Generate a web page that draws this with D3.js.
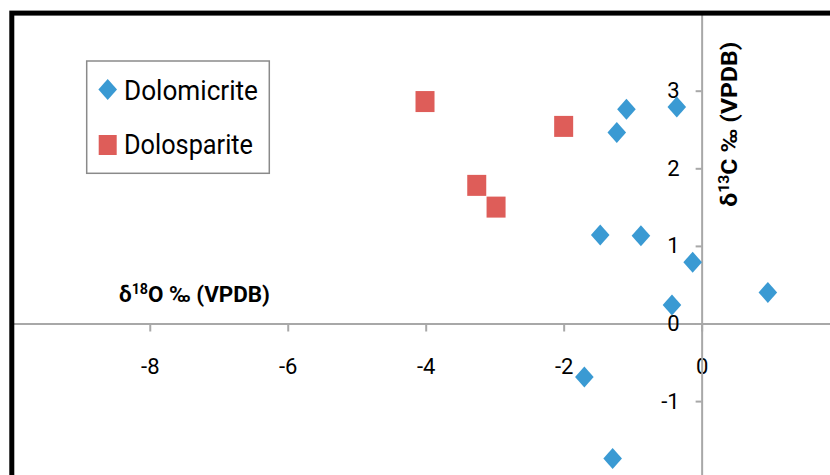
<!DOCTYPE html>
<html lang="en">
<head>
    <meta charset="utf-8"/>
    <title>Isotope cross-plot</title>
    <style>
        body { margin: 0; background: #fff; }
        svg { display: block; }
        .axis path, .axis line { stroke: #a8a8a8; stroke-width: 2px; }
        .axis text { font-family: Roboto, "Liberation Sans", sans-serif; font-size: 22px; fill: #000; }
        .title { font-family: Roboto, "Liberation Sans", sans-serif; font-weight: bold; font-size: 22px; fill: #000; }
        .legend text { font-family: Roboto, "Liberation Sans", sans-serif; font-size: 27px; fill: #000; }
    </style>
</head>
<body>
<div class="viz"></div>
<script src="https://cdnjs.cloudflare.com/ajax/libs/d3/7.8.5/d3.min.js"></script>
<script>
    // values (d18O, d13C in permil VPDB)
    var dolomicriteX = [-1.09, -0.36, -1.23, -1.47, -0.88, -0.13, -0.43, 0.96, -1.70, -1.29];
    var dolomicriteY = [2.76, 2.79, 2.46, 1.14, 1.13, 0.79, 0.24, 0.40, -0.69, -1.74];
    var dolospariteX = [-4.01, -2.00, -3.26, -2.98];
    var dolospariteY = [2.86, 2.54, 1.78, 1.50];

    var seriesNames = ["Dolomicrite", "Dolosparite"];
    var xTicks = [-10, -8, -6, -4, -2, 0, 2];
    var xTickLabels = ["", "-8", "-6", "-4", "-2", "0", ""];
    var yTicks = [-2, -1, 0, 1, 2, 3, 4];
    var yTickLabels = ["", "-1", "0", "1", "2", "3", ""];

    var width = 830, height = 475;

    var svg = d3.select('.viz').append('svg')
        .attr('width', width)
        .attr('height', height);

    svg.append('rect')
        .attr('width', width)
        .attr('height', height)
        .attr('fill', '#fff');

    var x = d3.scaleLinear().domain([-10, 2]).range([11.8, 839.6]);
    var y = d3.scaleLinear().domain([-2, 4]).range([478.7, 13.1]);

    // axes cross at the origin
    svg.append('g')
        .attr('class', 'axis')
        .attr('transform', 'translate(0,' + y(0) + ')')
        .call(d3.axisBottom(x)
            .tickValues(xTicks)
            .tickSize(8)
            .tickSizeOuter(0)
            .tickPadding(27)
            .tickFormat(function(d, i) { return xTickLabels[i]; }));

    svg.append('g')
        .attr('class', 'axis')
        .attr('transform', 'translate(' + x(0) + ',0)')
        .call(d3.axisLeft(y)
            .tickValues(yTicks)
            .tickSize(6)
            .tickSizeOuter(0)
            .tickPadding(16)
            .tickFormat(function(d, i) { return yTickLabels[i]; }));

    // axis titles
    var xt = svg.append('text')
        .attr('class', 'title')
        .attr('x', 119)
        .attr('y', 301.5)
        .attr('textLength', 151)
        .attr('lengthAdjust', 'spacingAndGlyphs');
    xt.append('tspan').text('δ');
    xt.append('tspan').attr('font-size', 14).attr('dy', -8).text('18');
    xt.append('tspan').attr('dy', 8).text('O ‰ (VPDB)');

    var yt = svg.append('text')
        .attr('class', 'title')
        .attr('transform', 'translate(737,206.7) rotate(-90)')
        .attr('textLength', 165)
        .attr('lengthAdjust', 'spacingAndGlyphs');
    yt.append('tspan').text('δ');
    yt.append('tspan').attr('font-size', 14).attr('dy', -8).text('13');
    yt.append('tspan').attr('dy', 8).text('C ‰ (VPDB)');

    var diamond = 'M0,-10.5L9.3,0L0,10.5L-9.3,0Z';
    var blue = '#3a9ad3', red = '#de5d59';

    svg.append('g')
        .selectAll('path')
        .data(d3.zip(dolomicriteX, dolomicriteY))
        .enter().append('path')
        .attr('d', diamond)
        .attr('fill', blue)
        .attr('transform', function(d) { return 'translate(' + x(d[0]) + ',' + y(d[1]) + ')'; });

    svg.append('g')
        .selectAll('rect')
        .data(d3.zip(dolospariteX, dolospariteY))
        .enter().append('rect')
        .attr('x', function(d) { return x(d[0]) - 9.5; })
        .attr('y', function(d) { return y(d[1]) - 10.5; })
        .attr('width', 19)
        .attr('height', 21)
        .attr('fill', red);

    // legend
    var legend = svg.append('g').attr('class', 'legend');
    legend.append('rect')
        .attr('x', 86.7).attr('y', 61)
        .attr('width', 182.6).attr('height', 112.3)
        .attr('fill', '#fff')
        .attr('stroke', '#8a8a8a')
        .attr('stroke-width', 1.5);
    legend.append('path')
        .attr('d', diamond)
        .attr('fill', blue)
        .attr('transform', 'translate(107.7,89.5)');
    legend.append('rect')
        .attr('x', 98.7).attr('y', 135)
        .attr('width', 18).attr('height', 20)
        .attr('fill', red);
    legend.selectAll('text')
        .data(seriesNames)
        .enter().append('text')
        .attr('x', 124)
        .attr('y', function(d, i) { return i ? 153.5 : 99.5; })
        .attr('textLength', function(d, i) { return i ? 129 : 134; })
        .attr('lengthAdjust', 'spacingAndGlyphs')
        .text(function(d) { return d; });

    // thick black plot frame
    svg.append('rect')
        .attr('x', x(-10))
        .attr('y', y(4))
        .attr('width', x(2) - x(-10))
        .attr('height', y(-2) - y(4))
        .attr('fill', 'none')
        .attr('stroke', '#000')
        .attr('stroke-width', 5);
</script>
</body>
</html>
